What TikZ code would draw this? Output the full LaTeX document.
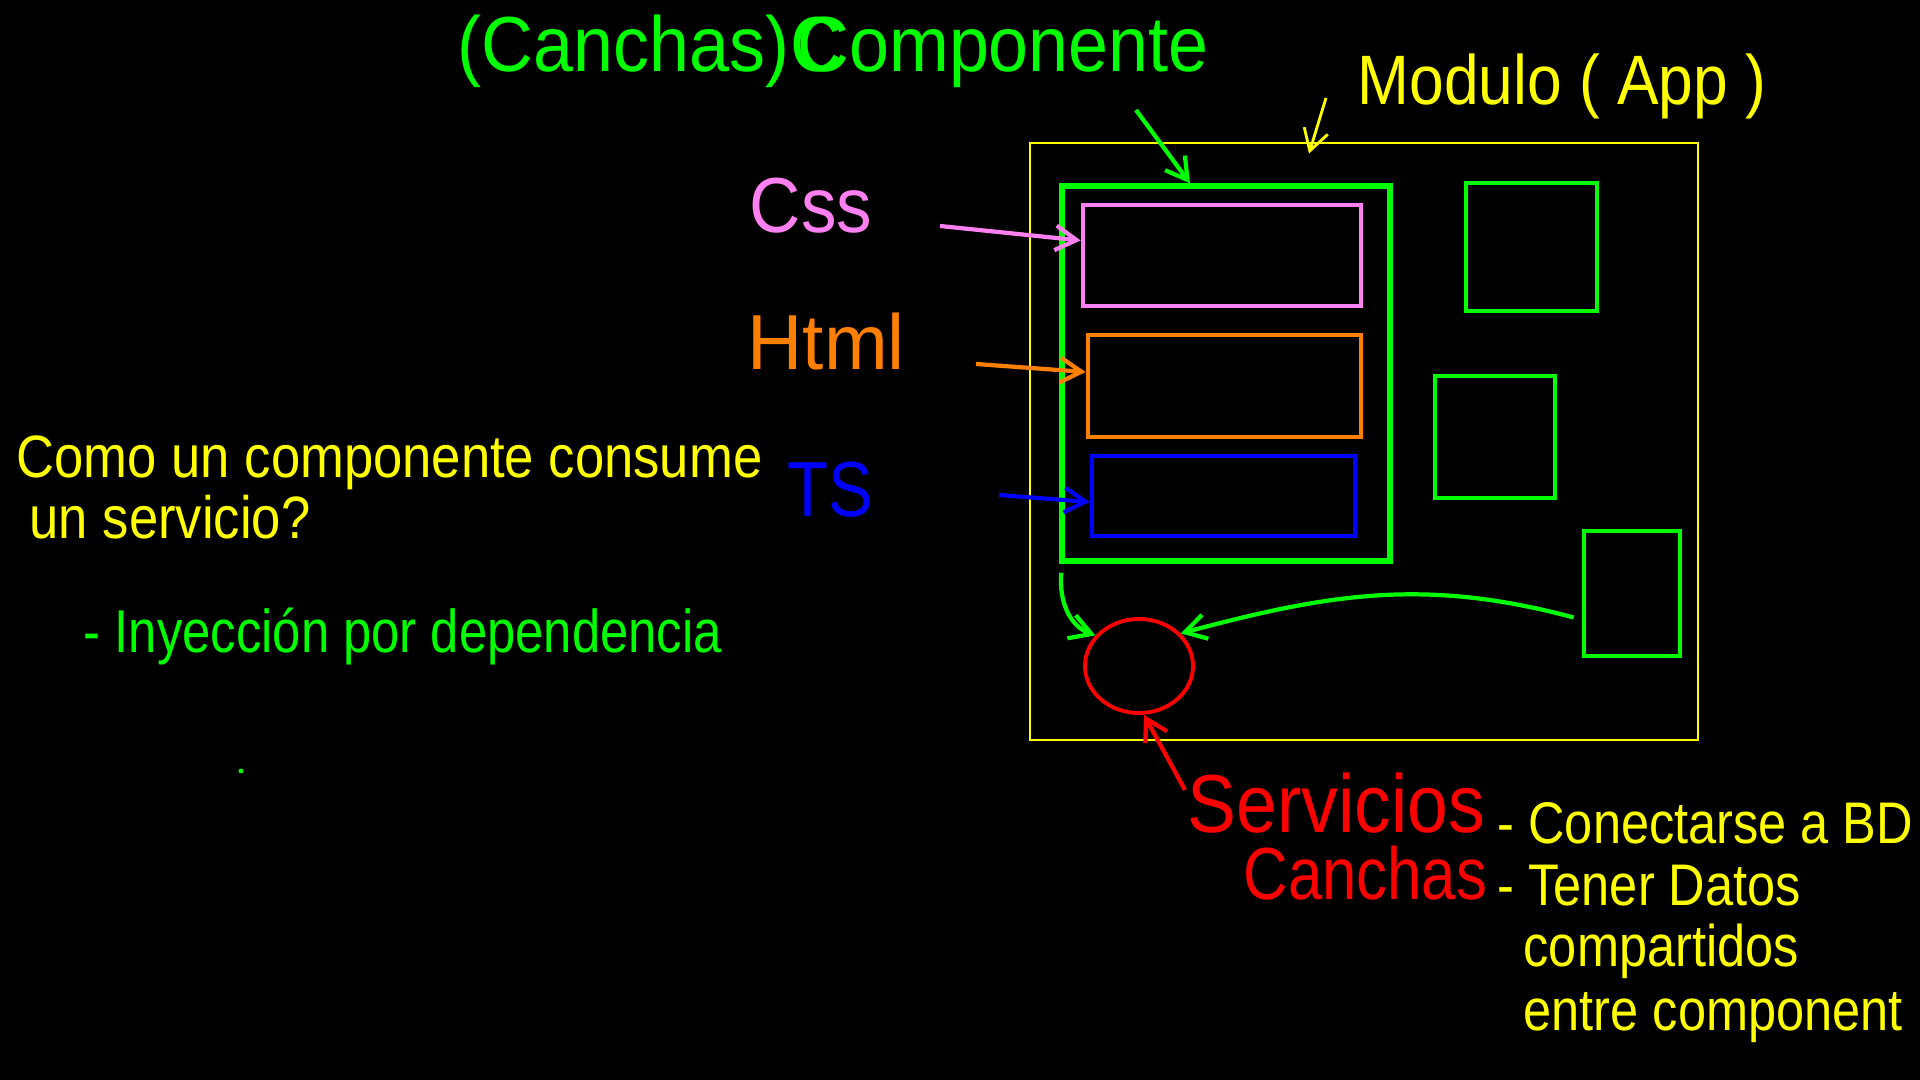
\documentclass[tikz,border=0pt]{standalone}
\usepackage{fontspec}
\setmainfont[FakeStretch=0.86]{Liberation Sans}
\usetikzlibrary{shapes.geometric,arrows.meta,positioning}

\definecolor{penGreen}{RGB}{0,255,0}
\definecolor{penYellow}{RGB}{255,255,0}
\definecolor{penPink}{RGB}{255,128,240}
\definecolor{penOrange}{RGB}{255,128,0}
\definecolor{penBlue}{RGB}{0,0,255}
\definecolor{penRed}{RGB}{255,0,0}

\tikzset{
  box/.style={draw,rectangle,inner sep=0pt,line width=1.3pt},
  txt/.style={inner sep=0pt,anchor=base west},
  pen/.style={line width=1.2pt,-{Straight Barb[length=6pt,width=7pt]}},
}

\begin{document}
\begin{tikzpicture}[x=0.01cm,y=-0.01cm]
\fill[black] (0,0) rectangle (1920,1080);
\useasboundingbox (0,0) rectangle (1920,1080);

\node[box,draw=penYellow,line width=0.7pt,minimum width=6.68cm,minimum height=5.97cm] (modBox) at (1364,441.5) {};
\node[box,draw=penGreen,line width=1.5pt,minimum width=3.28cm,minimum height=3.75cm] (compBox) at (1226,373.5) {};
\node[box,draw=penPink,minimum width=2.78cm,minimum height=1.01cm] (cssBox) at (1222,255.5) {};
\node[box,draw=penOrange,minimum width=2.73cm,minimum height=1.02cm] (htmlBox) at (1224.5,386) {};
\node[box,draw=penBlue,minimum width=2.63cm,minimum height=0.80cm] (tsBox) at (1223.5,496) {};
\node[box,draw=penGreen,minimum width=1.31cm,minimum height=1.28cm] (compA) at (1531.5,247) {};
\node[box,draw=penGreen,minimum width=1.20cm,minimum height=1.22cm] (compB) at (1495,437) {};
\node[box,draw=penGreen,minimum width=0.96cm,minimum height=1.25cm] (compC) at (1632,593.5) {};
\node[ellipse,draw=penRed,line width=1.1pt,minimum width=1.08cm,minimum height=0.94cm] (srvCircle) at (1139,666) {};

\node[txt,text=penGreen,font=\fontsize{22.2}{26}\selectfont\addfontfeature{FakeStretch=0.92}] (titleA) at (457,72) {(Canchas)};
\node[txt,text=penGreen,font=\fontsize{22.2}{26}\selectfont\addfontfeature{FakeStretch=0.92}] (titleC) at (titleA.base east) {C};
\node[txt,text=penGreen,font=\fontsize{22.2}{26}\selectfont\addfontfeature{FakeStretch=0.92}] (titleB) at ([xshift=0.07cm]titleC.base west) {Componente};
\node[txt,text=penYellow,font=\fontsize{19.9}{24}\selectfont\addfontfeature{FakeStretch=0.89}] (modTxt) at (1357,105) {Modulo ( App )};
\node[txt,text=penPink,font=\fontsize{22.2}{26}\selectfont\addfontfeature{FakeStretch=0.91}] (cssTxt) at (749,233) {Css};
\node[txt,text=penOrange,font=\fontsize{22.2}{26}\selectfont\addfontfeature{FakeStretch=0.98}] (htmlTxt) at (747,370) {Html};
\node[txt,text=penBlue,font=\fontsize{22.2}{26}\selectfont] (tsTxt) at (787,517) {TS};
\node[txt,text=penYellow,font=\fontsize{17}{20}\selectfont\addfontfeature{FakeStretch=0.88}] (askTxt) at (16,478) {Como un componente consume};
\node[txt,text=penYellow,font=\fontsize{17}{20}\selectfont\addfontfeature{FakeStretch=0.88}] (askTxtB) at (29,539) {un servicio?};
\node[txt,text=penGreen,font=\fontsize{17.2}{20}\selectfont\addfontfeature{FakeStretch=0.84}] (injTxt) at (83,653) {- Inyección por dependencia};
\node[circle,fill=penGreen,inner sep=0pt,minimum size=1.4pt] (dot) at (241,771) {};
\node[txt,text=penRed,font=\fontsize{23.4}{28}\selectfont\addfontfeature{FakeStretch=0.89}] (srvTxt) at (1187,833) {Servicios};
\node[txt,text=penRed,font=\fontsize{21}{25}\selectfont\addfontfeature{FakeStretch=0.835}] (srvTxtB) at (1243,900) {Canchas};
\node[txt,text=penYellow,font=\fontsize{16.7}{20}\selectfont] (useA) at (1497,844) {- Conectarse a BD};
\node[txt,text=penYellow,font=\fontsize{16.7}{20}\selectfont] (useB) at (1497,906) {- Tener Datos};
\node[txt,text=penYellow,font=\fontsize{16.7}{20}\selectfont] (useC) at (1523,967) {compartidos};
\node[txt,text=penYellow,font=\fontsize{16.7}{20}\selectfont] (useD) at (1523,1031) {entre component};

\coordinate (titleTail) at (1136,110);
\coordinate (modTail) at (1326,98);
\coordinate (cssTail) at (940,226);
\coordinate (htmlTail) at (976,364);
\coordinate (tsTail) at (999,495);
\coordinate (srvTail) at (1185,790);

\draw[pen,penGreen] (titleTail) -- ([xshift=-0.36cm]compBox.north);
\draw[pen,penYellow,line width=0.8pt] (modTail) -- ([xshift=-0.55cm,yshift=-0.12cm]modBox.north);
\draw[pen,penPink] (cssTail) -- ([yshift=0.15cm]cssBox.west);
\draw[pen,penOrange] (htmlTail) -- ([yshift=0.14cm]htmlBox.west);
\draw[pen,penBlue] (tsTail) -- ([yshift=-0.06cm]tsBox.west);
\draw[pen,penGreen] ([xshift=0.02cm,yshift=-0.09cm]compBox.south west) to[out=-95,in=160] (srvCircle.145);
\draw[pen,penGreen] ([xshift=-0.08cm,yshift=-0.24cm]compC.west) to[out=165,in=15] (srvCircle.38);
\draw[pen,penRed] (srvTail) -- ([xshift=0.05cm]srvCircle.south);
\end{tikzpicture}
\end{document}
